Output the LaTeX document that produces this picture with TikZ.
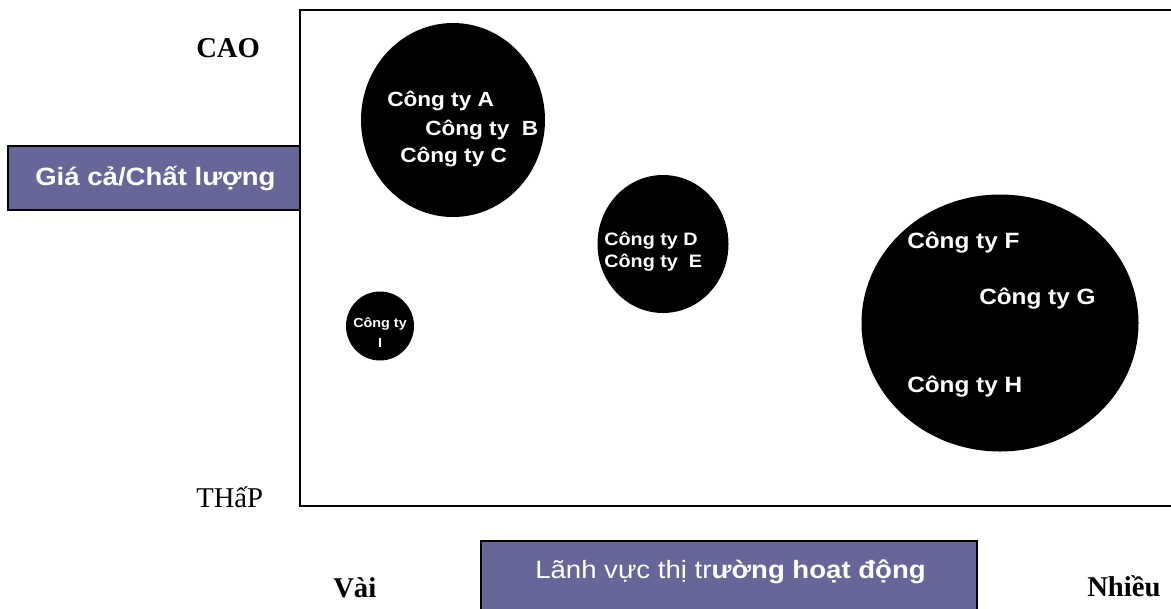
\documentclass[tikz,border=0pt]{standalone}
\usepackage{fontspec}
\usetikzlibrary{shapes.geometric}
\setmainfont{Liberation Serif}
\newfontfamily\wide[FakeStretch=1.1]{Liberation Sans}
\definecolor{boxblue}{RGB}{102,102,153}
\tikzset{
  bubble/.style={ellipse, fill=black, inner sep=0pt},
  firm/.style={anchor=base west, inner sep=0pt, text=white, font=\wide\bfseries},
  level/.style={anchor=base west, inner sep=0pt, font=\fontsize{21.5}{24}\selectfont},
  axisbox/.style={draw=black, line width=1.2pt, fill=boxblue}
}
\begin{document}
\begin{tikzpicture}[x=0.75pt,y=-0.75pt]
\useasboundingbox (0,0) rectangle (1171,608);
% frame of the chart
\draw[line width=1.2pt] (300,10) rectangle (1180,506);
% axis boxes
\draw[axisbox] (8,146) rectangle (300,210);
\node[anchor=base west, inner sep=0pt, text=white, font=\wide\bfseries\fontsize{18.8}{22}\selectfont] (yaxis) at (35,185) {Giá cả/Chất lượng};
\draw[axisbox] (481,541) rectangle (977,615);
\node[anchor=base west, inner sep=0pt, text=white, font=\wide\fontsize{18.8}{22}\selectfont] (xaxis) at (535,578) {Lãnh vực thị tr\textbf{ường hoạt động}};
% levels
\node[level, font=\bfseries\fontsize{21.5}{24}\selectfont] (cao) at (196,57) {CAO};
\node[level] (thap) at (196,507) {THấP};
\node[level, font=\bfseries\fontsize{21.5}{24}\selectfont] (vai) at (333,597) {Vài};
\node[level, font=\bfseries\fontsize{21.5}{24}\selectfont] (nhieu) at (1087,596) {Nhiều};
% bubbles
\node[bubble, minimum width=138pt, minimum height=145.5pt] (bubABC) at (453,120) {};
\node[bubble, minimum width=98.25pt, minimum height=103.5pt] (bubDE) at (663,244) {};
\node[bubble, minimum width=207.75pt, minimum height=192.75pt] (bubFGH) at (1000,323) {};
\node[bubble, minimum width=51pt, minimum height=51.75pt] (bubI) at (380,326) {};
% firms
\node[firm, font=\wide\bfseries\fontsize{15.4}{18}\selectfont] (firmA) at (387,106) {Công ty A};
\node[firm, font=\wide\bfseries\fontsize{15.4}{18}\selectfont] (firmB) at (425,135) {Công ty~~B};
\node[firm, font=\wide\bfseries\fontsize{15.4}{18}\selectfont] (firmC) at (400,162) {Công ty C};
\node[firm, font=\wide\bfseries\fontsize{13.5}{16}\selectfont] (firmD) at (604,245) {Công ty D};
\node[firm, font=\wide\bfseries\fontsize{13.5}{16}\selectfont] (firmE) at (604,267) {Công ty~~E};
\node[firm, font=\wide\bfseries\fontsize{16.6}{19}\selectfont] (firmF) at (907,248) {Công ty F};
\node[firm, font=\wide\bfseries\fontsize{16.6}{19}\selectfont] (firmG) at (979,304) {Công ty G};
\node[firm, font=\wide\bfseries\fontsize{16.6}{19}\selectfont] (firmH) at (907,392) {Công ty H};
\node[firm, font=\wide\bfseries\fontsize{9.8}{12}\selectfont] (firmI) at (353,327) {Công ty};
\node[firm, anchor=base, font=\wide\bfseries\fontsize{9.8}{12}\selectfont] (firmIb) at (380,347) {I};
\end{tikzpicture}
\end{document}
